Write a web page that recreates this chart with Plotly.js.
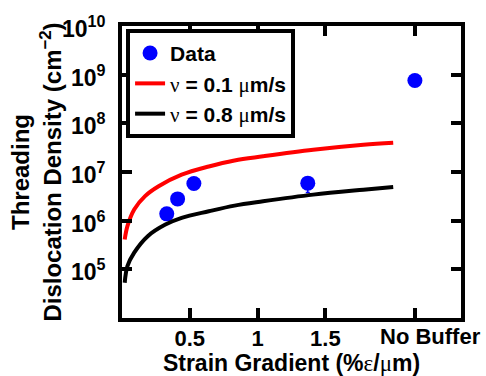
<!DOCTYPE html>
<html>
<head>
<meta charset="utf-8">
<script src="https://cdn.plot.ly/plotly-3.0.1.min.js"></script>
<style>html,body{margin:0;padding:0;background:#fff}#chart{width:486px;height:376px}</style>
</head>
<body>
<div id="chart"></div>
<script>
// Measured data (strain gradient in %/um; "No Buffer" placed at x = 2.16)
const dataX = [0.33, 0.41, 0.53, 1.37, 2.16];
const dataY = [1.38e6, 2.8e6, 5.8e6, 5.9e6, 7.6e8];
const dataErrMinus = [0, 0, 0, 2.1e6, 0];

const redX = [0.02, 0.04, 0.09, 0.17, 0.27, 0.44, 0.64, 0.83, 1.04, 1.41, 1.78, 2.0];
const redY = [4.1e5, 7.7e5, 1.7e6, 3.2e6, 5.1e6, 8.8e6, 1.3e7, 1.73e7, 2.1e7, 2.86e7, 3.63e7, 4.0e7];

const blackX = [0.02, 0.04, 0.09, 0.19, 0.32, 0.44, 0.64, 0.83, 1.04, 1.41, 1.78, 2.0];
const blackY = [5.3e4, 1.16e5, 2.2e5, 4.8e5, 8.3e5, 1.14e6, 1.56e6, 2.04e6, 2.5e6, 3.43e6, 4.34e6, 4.93e6];

const SYM = '<span style="font-family:\'Liberation Serif\',serif;font-weight:normal">';
const seriesNames = ['Data', SYM + 'ν</span> = 0.1 ' + SYM + 'μ</span>m/s', SYM + 'ν</span> = 0.8 ' + SYM + 'μ</span>m/s'];

const xTickVals = [0.5, 1, 1.5, 2.16];
const xTickText = ['0.5', '1', '1.5', 'No Buffer'];
const yTickVals = [1e5, 1e6, 1e7, 1e8, 1e9, 1e10];
const yTickText = ['10<sup>5</sup>', '10<sup>6</sup>', '10<sup>7</sup>', '10<sup>8</sup>', '10<sup>9</sup>', '10<sup>10</sup>'];

const FONT = 'Liberation Sans, Arial, Helvetica, sans-serif';

const traces = [
  {x: dataX, y: dataY, mode: 'markers', name: seriesNames[0],
   marker: {color: '#0000ff', size: 15},
   error_y: {type: 'data', symmetric: false, array: dataX.map(() => 0), arrayminus: dataErrMinus,
     color: '#0000ff', thickness: 1.5, width: 2}},
  {x: redX, y: redY, mode: 'lines', name: seriesNames[1],
   line: {color: '#ff0000', width: 4, shape: 'spline'}},
  {x: blackX, y: blackY, mode: 'lines', name: seriesNames[2],
   line: {color: '#000000', width: 4, shape: 'spline'}}
];

// y tick labels, placed at their tick values on the log axis
const yLabelAnns = yTickVals.map((v, i) => ({
  text: yTickText[i], xref: 'paper', x: -0.04, xanchor: 'right',
  yref: 'y', y: Math.log10(v), yanchor: 'middle', yshift: -1, showarrow: false,
  font: {family: FONT, size: 23, weight: 'bold', color: '#000'}
}));

const layout = {
  width: 486, height: 376,
  margin: {l: 122, r: 25, t: 26, b: 58, pad: 0},
  paper_bgcolor: '#fff', plot_bgcolor: '#fff',
  font: {family: FONT, size: 22, color: '#000', weight: 'bold'},
  showlegend: true,
  legend: {x: 0.012, y: 0.99, xanchor: 'left', yanchor: 'top',
    bgcolor: '#fff', bordercolor: '#000', borderwidth: 4,
    font: {family: FONT, size: 21, color: '#000', weight: 'bold'},
    tracegroupgap: 0, itemwidth: 30},
  xaxis: {
    range: [0, 2.5], type: 'linear',
    tickmode: 'array', tickvals: xTickVals, ticktext: xTickText.slice(0, 3).concat(['']),
    ticks: 'inside', ticklen: 10, tickwidth: 4, tickcolor: '#000',
    showline: true, linewidth: 4, linecolor: '#000', mirror: 'ticks',
    showgrid: false, zeroline: false,
    ticklabelstandoff: -2,
    tickfont: {family: FONT, size: 22, weight: 'bold'},
    title: {text: 'Strain Gradient (%' + SYM + 'ε</span>/' + SYM + 'μ</span>m)',
      font: {family: FONT, size: 23, weight: 'bold'}, standoff: 5}
  },
  yaxis: {
    type: 'log', range: [4, 10],
    tickmode: 'array', tickvals: yTickVals, ticktext: yTickText,
    ticks: 'inside', ticklen: 10, tickwidth: 4, tickcolor: '#000',
    showline: true, linewidth: 4, linecolor: '#000', mirror: 'ticks',
    showgrid: false, zeroline: false,
    showticklabels: false,
    title: {text: 'Threading<br>Dislocation Density (cm<sup>−2</sup>)',
      font: {family: FONT, size: 24, weight: 'bold'}, standoff: 51}
  },
  annotations: yLabelAnns.concat([{
    text: xTickText[3], x: 2.275, xref: 'x', y: -0.062, yref: 'paper',
    xanchor: 'center', yanchor: 'middle', showarrow: false,
    font: {family: FONT, size: 22, weight: 'bold', color: '#000'}
  }])
};

Plotly.newPlot('chart', traces, layout, {displayModeBar: false, staticPlot: true});
</script>
</body>
</html>
